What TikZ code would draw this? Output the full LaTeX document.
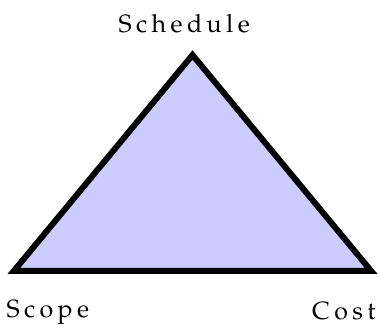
\documentclass[tikz,border=0pt]{standalone}
\usepackage[T1]{fontenc}
\usepackage{mathpazo}
\newcommand{\lsp}{\kern4.4pt}
\begin{document}
\begin{tikzpicture}[x=1pt,y=-1pt,
  lbl/.style={inner sep=0pt,anchor=base west,font=\fontsize{25}{29}\selectfont}]
\useasboundingbox (0,0) rectangle (378,326);
\coordinate (sch) at (192.5,55);
\coordinate (sco) at (13.8,271);
\coordinate (cos) at (371.2,271);
\draw[line width=6pt,fill=blue!20,line join=miter] (sco) -- (sch) -- (cos) -- cycle;
\node[lbl] (tsch) at (118.5,32.3) {S\lsp c\lsp h\lsp e\lsp d\lsp u\lsp l\lsp e};
\node[lbl] (tsco) at (6.5,317.3) {S\lsp c\lsp o\lsp p\lsp e};
\node[lbl] (tcos) at (312,319.5) {C\lsp o\lsp s\lsp t};
\end{tikzpicture}
\end{document}
